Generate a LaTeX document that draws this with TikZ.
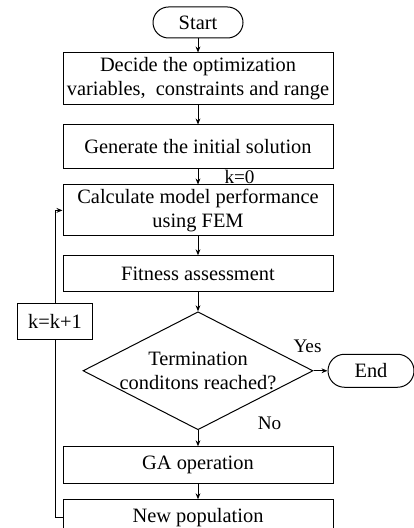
\documentclass[tikz,border=0pt]{standalone}
\usepackage{fontspec}
\setmainfont{Liberation Serif}
\usetikzlibrary{arrows.meta, positioning, shapes.geometric}
\tikzset{
  flowbox/.style={rectangle, draw=black, line width=0.5pt, align=center, minimum width=135pt, inner xsep=1.5pt, inner ysep=2pt},
  termbox/.style={rectangle, rounded corners=7.75pt, draw=black, line width=0.5pt, minimum width=45pt, minimum height=15.5pt, inner sep=1pt},
  decbox/.style={diamond, aspect=1.95, draw=black, line width=0.5pt, minimum width=115pt, minimum height=59pt, inner sep=0pt},
  flowarr/.style={line width=0.5pt, -{Stealth[length=3pt, width=2.4pt]}},
  flowlbl/.style={font=\fontsize{9.6}{11}\selectfont, inner sep=0pt},
}

\begin{document}
\begin{tikzpicture}[node distance=9.5pt, font=\fontsize{10.2}{12}\selectfont]
\useasboundingbox (0,0) rectangle (206.5pt,-264pt);
\node[termbox] (start) at (99pt,-11.25pt) {Start};
\node[flowbox, minimum height=26pt, below=7pt of start] (decide) {Decide the optimization\\variables,\ \ constraints and range};
\node[flowbox, minimum height=22pt, below=of decide] (gen) {Generate the initial solution};
\node[flowbox, minimum height=25pt, below=7.5pt of gen] (calc) {Calculate model performance\\using FEM};
\node[flowbox, minimum height=18pt, below=of calc] (fit) {Fitness assessment};
\node[decbox, below=of fit, label={[align=center]center:Termination\\conditons reached?}] (dec) {};
\node[termbox, minimum width=43pt, minimum height=16.5pt, rounded corners=8.25pt, right=7pt of dec] (stop) {End};
\node[flowbox, minimum height=18.5pt, below=8pt of dec] (ga) {GA operation};
\node[flowbox, minimum height=17.5pt, below=7.5pt of ga] (newpop) {New population};
\node[rectangle, draw, line width=0.5pt, minimum width=37.5pt, minimum height=18pt] (kinc) at (27.5pt,-160.5pt) {k=k+1};
% main column
\draw[flowarr] (start) -- (decide);
\draw[flowarr] (decide) -- (gen);
\draw[flowarr] (gen) -- node[flowlbl, right=13pt] (kzero) {k=0} (calc);
\draw[flowarr] (calc) -- (fit);
\draw[flowarr] (fit) -- (dec);
\draw[flowarr] (dec) -- (ga);
\draw[flowarr] (ga) -- (newpop);
\draw[flowarr] (dec) -- (stop);
% loop back
\draw[line width=0.5pt] (newpop.west) -| (kinc.south);
\draw[flowarr] (kinc.north) |- (calc.west);
\node[flowlbl] (yes) at ([shift={(-3pt,12.25pt)}]dec.east) {Yes};
\node[flowlbl] (no) at ([shift={(35.75pt,3.25pt)}]dec.south) {No};
\end{tikzpicture}
\end{document}
